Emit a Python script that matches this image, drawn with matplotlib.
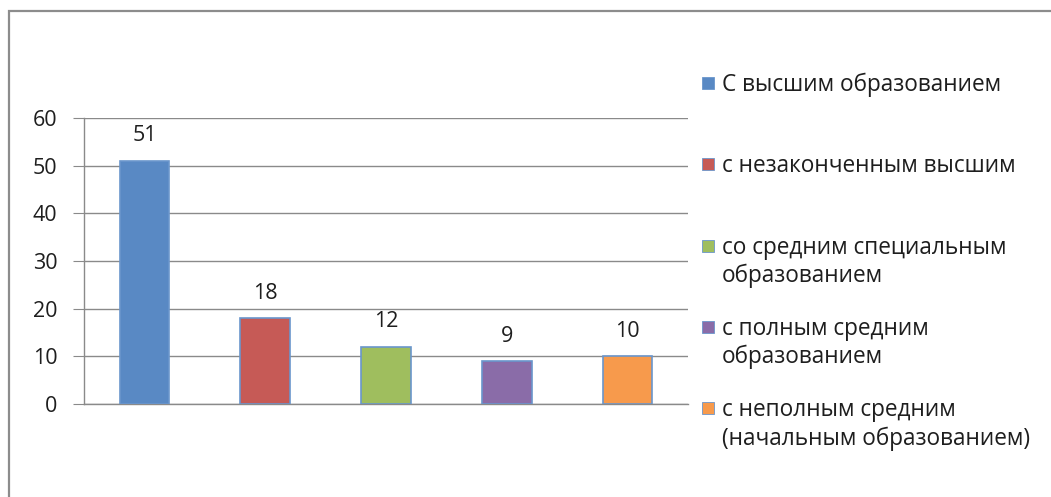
import matplotlib.pyplot as plt
from matplotlib.patches import Rectangle

# данные
categories = ['С высшим образованием',
              'с незаконченным высшим',
              'со средним специальным\nобразованием',
              'с полным средним\nобразованием',
              'с неполным средним\n(начальным образованием)']
values = [51, 18, 12, 9, 10]
colors = ['#5989c4', '#c65a56', '#9fbe5e', '#8a6ca8', '#f79a4c']
yticks = [0, 10, 20, 30, 40, 50, 60]

plt.rcParams['font.family'] = ['Open Sans', 'DejaVu Sans']
grid_col = '#8a8a8a'
txt_col = '#1e1e1e'
fs = 15.5

fig = plt.figure(figsize=(10.51, 4.97), dpi=100)
W, H = 1051, 497
ax = fig.add_axes([84 / W, 1 - 404 / H, (688 - 84) / W, (404 - 118) / H])

x = list(range(len(values)))
bars = ax.bar(x, values, width=0.41, color=colors, edgecolor='#6a96cc', linewidth=1.2, zorder=3)
for b, v in zip(bars, values):
    ax.annotate(str(v), (b.get_x() + b.get_width() / 2, v), xytext=(0, 18),
                textcoords='offset points', ha='center', va='center', fontsize=fs, color=txt_col)

ax.set_xlim(-0.5, len(values) - 0.5)
ax.set_ylim(0, 60)
ax.set_yticks(yticks)
ax.set_xticks([])
ax.yaxis.grid(True, color=grid_col, linewidth=1)
ax.set_axisbelow(True)
for s in ['top', 'right']:
    ax.spines[s].set_visible(False)
for s in ['left', 'bottom']:
    ax.spines[s].set_color(grid_col)
    ax.spines[s].set_linewidth(1)
ax.tick_params(axis='y', length=8, color=grid_col, labelsize=fs, labelcolor=txt_col, pad=11)

# легенда вручную
for i, (lab, c) in enumerate(zip(categories, colors)):
    yc = 83 + 81.3 * i
    fig.add_artist(Rectangle((702 / W, 1 - (yc + 6) / H), 12 / W, 12 / H,
                             facecolor=c, edgecolor='#6a96cc', linewidth=0.6,
                             transform=fig.transFigure))
    fig.text(722 / W, 1 - (yc - 10) / H, lab, fontsize=16.3, color=txt_col,
             va='top', ha='left', linespacing=1.22)

# рамка
fig.add_artist(Rectangle((9 / W, -0.05), 1.1, 1 - 11 / H + 0.05, fill=False,
                         edgecolor='#8c8c8c', linewidth=1.6, transform=fig.transFigure))

fig.savefig('out.png', dpi=100)
